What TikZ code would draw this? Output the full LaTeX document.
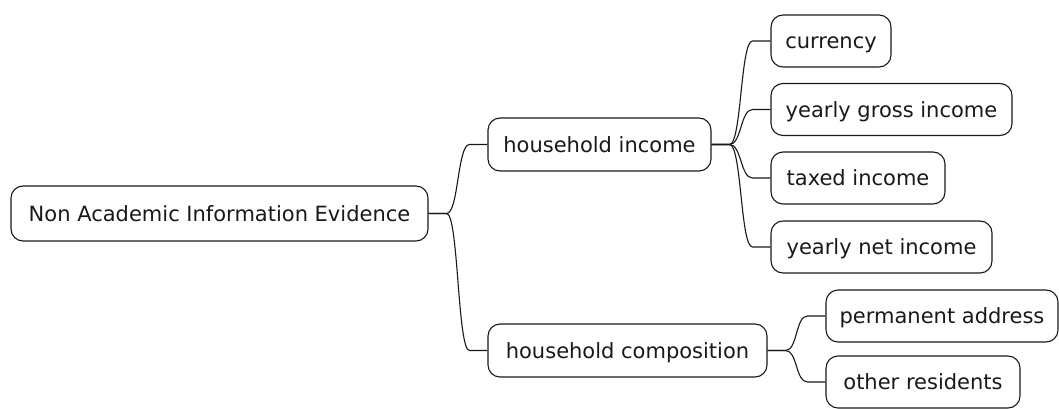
\documentclass[tikz,border=0pt]{standalone}
\usepackage{fontspec}
\setmainfont{DejaVu Sans}
\usetikzlibrary{calc}
\definecolor{lineC}{HTML}{181818}
\tikzset{
  mm/.style={draw=lineC, line width=1.1pt, rounded corners=12pt, inner sep=0pt,
    font=\fontsize{21}{25}\selectfont, text=black!90, minimum height=52pt,
    text height=17.5pt, text depth=2.5pt},
  conn/.style={draw=lineC, line width=1.1pt}
}
\newcommand{\mmlink}[2]{\draw[conn] (#1.east) -- ++(18,0) .. controls +(12,0) and +(-12,0) .. ($(#2.west)+(-18,0)$) -- (#2.west);}
\begin{document}
\begin{tikzpicture}[x=1pt,y=1pt]
\useasboundingbox (0,0) rectangle (1059,408);
\node[mm, minimum width=417pt, minimum height=55pt] (root) at (219.5,194.5) {Non Academic Information Evidence};
\node[mm, minimum width=223pt, minimum height=53pt] (hi) at (599.5,263.5) {household income};
\node[mm, minimum width=120pt] (cur) at (831,367) {currency};
\node[mm, minimum width=241pt] (ygi) at (891.5,298.5) {yearly gross income};
\node[mm, minimum width=174pt] (ti) at (858,230) {taxed income};
\node[mm, minimum width=221pt] (yni) at (881.5,161) {yearly net income};
\node[mm, minimum width=279pt, minimum height=53pt] (hc) at (627.5,57.5) {household composition};
\node[mm, minimum width=232pt] (pa) at (942,92) {permanent address};
\node[mm, minimum width=194pt] (ors) at (923,26) {other residents};
\mmlink{root}{hi}
\mmlink{root}{hc}
\mmlink{hi}{cur}
\mmlink{hi}{ygi}
\mmlink{hi}{ti}
\mmlink{hi}{yni}
\mmlink{hc}{pa}
\mmlink{hc}{ors}
\end{tikzpicture}
\end{document}
